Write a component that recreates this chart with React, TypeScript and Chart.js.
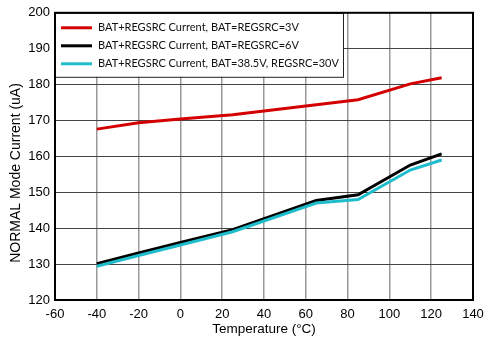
import React, { useEffect, useRef } from "react";
import { Chart, registerables } from "chart.js";

Chart.register(...registerables);

const temps = [-40, -20, 0, 25, 65, 85, 110, 125];
const red3V = [167.6, 169.4, 170.4, 171.6, 174.4, 175.8, 180.2, 181.9];
const black6V = [130.1, 133.1, 136.0, 139.6, 147.7, 149.3, 157.6, 160.7];
const cyan30V = [129.4, 132.4, 135.3, 139.0, 147.0, 148.0, 156.2, 159.0];
const seriesLabels = [
  "BAT+REGSRC Current, BAT=REGSRC=3V",
  "BAT+REGSRC Current, BAT=REGSRC=6V",
  "BAT+REGSRC Current, BAT=38.5V, REGSRC=30V",
];
const seriesColors = ["#d40000", "#000000", "#1fbccc"];
const xTitle = "Temperature (°C)";
const yTitle = "NORMAL Mode Current (uA)";

const FONT = "'Liberation Sans', Arial, sans-serif";

const legendPlugin = {
  id: "boxLegend",
  afterDraw(chart: any) {
    const { ctx, chartArea } = chart;
    const x0 = chartArea.left;
    const y0 = chartArea.top;
    const w = 288;
    const h = 64;
    ctx.save();
    ctx.fillStyle = "#ffffff";
    ctx.fillRect(x0, y0, w, h);
    ctx.strokeStyle = "#222";
    ctx.lineWidth = 1;
    ctx.strokeRect(x0 + 0.5, y0 + 0.5, w, h);
    ctx.font = "11px Lato, 'Open Sans', sans-serif";
    ctx.textBaseline = "middle";
    ctx.textAlign = "left";
    seriesLabels.forEach((lab, i) => {
      const y = y0 + 15 + i * 18;
      ctx.strokeStyle = seriesColors[i];
      ctx.lineWidth = 3;
      ctx.beginPath();
      ctx.moveTo(x0 + 6, y);
      ctx.lineTo(x0 + 37, y);
      ctx.stroke();
      ctx.fillStyle = "#111";
      ctx.fillText(lab, x0 + 43, y);
    });
    // plot border
    ctx.strokeStyle = "#000";
    ctx.lineWidth = 2;
    ctx.strokeRect(chartArea.left, chartArea.top, chartArea.right - chartArea.left, chartArea.bottom - chartArea.top);
    // axis titles
    ctx.fillStyle = "#000";
    ctx.textAlign = "center";
    ctx.textBaseline = "middle";
    ctx.font = "13.5px " + FONT;
    ctx.fillText(xTitle, 264, 329);
    ctx.translate(16, 173);
    ctx.rotate(-Math.PI / 2);
    ctx.font = "14px " + FONT;
    ctx.fillText(yTitle, 0, 0);
    ctx.restore();
  },
};

export default function App() {
  const ref = useRef<HTMLCanvasElement>(null);
  useEffect(() => {
    if (!ref.current) return;
    const mk = (vals: number[], i: number) => ({
      label: seriesLabels[i],
      data: temps.map((t, k) => ({ x: t, y: vals[k] })),
      borderColor: seriesColors[i],
      backgroundColor: seriesColors[i],
      borderWidth: 3,
      pointRadius: 0,
      tension: 0,
    });
    const chart = new Chart(ref.current, {
      type: "line",
      data: { datasets: [mk(cyan30V, 2), mk(black6V, 1), mk(red3V, 0)] },
      plugins: [legendPlugin],
      options: {
        animation: false,
        responsive: false,
        maintainAspectRatio: false,
        layout: { padding: { top: 10, right: 12, left: 0, bottom: 0 } },
        plugins: { legend: { display: false }, tooltip: { enabled: false } },
        scales: {
          x: {
            type: "linear",
            min: -60,
            max: 140,
            ticks: { stepSize: 20, color: "#000", font: { family: FONT, size: 13 }, maxRotation: 0, padding: 7 },
            grid: { color: "#999", lineWidth: 1.5, drawTicks: false },
            border: { display: false },
            afterFit: (s: any) => { s.height = 39; s.paddingRight = 0; s.paddingLeft = 0; },
          },
          y: {
            min: 120,
            max: 200,
            ticks: { stepSize: 10, color: "#000", font: { family: FONT, size: 13 }, padding: 5 },
            grid: { color: "#444", lineWidth: 1, drawTicks: false },
            border: { display: false },
            afterFit: (s: any) => { s.width = 55; },
          },
        },
      },
    });
    return () => chart.destroy();
  }, []);
  return (
    <div style={{ position: "absolute", left: 0, top: 0, width: 485, height: 339, background: "#fff" }}>
      <canvas ref={ref} width={485} height={339} style={{ width: 485, height: 339 }} />
    </div>
  );
}
